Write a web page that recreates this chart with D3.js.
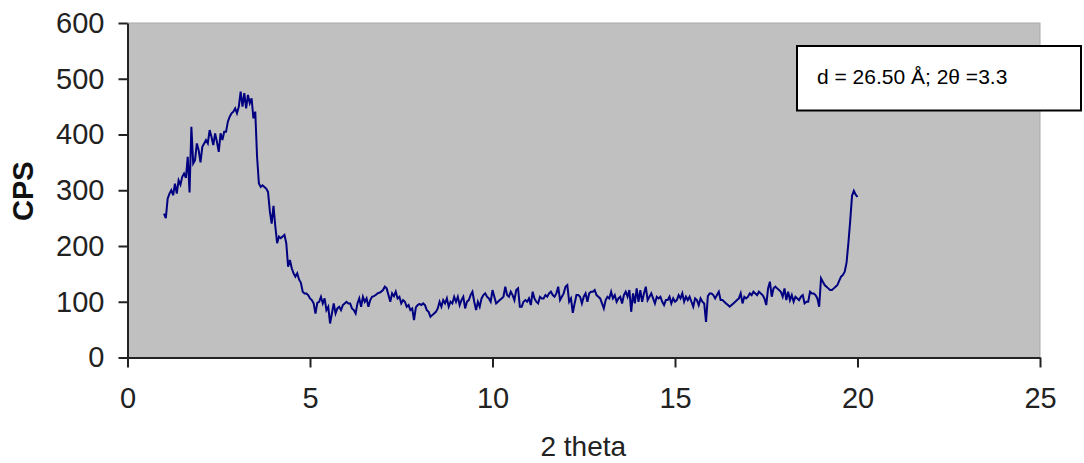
<!DOCTYPE html>
<html>
<head>
<meta charset="utf-8">
<script src="https://cdn.jsdelivr.net/npm/d3@7/dist/d3.min.js"></script>
<style>
  html, body { margin: 0; padding: 0; background: #ffffff; }
  svg { display: block; }
  text { font-family: "Liberation Sans", Arial, sans-serif; }
</style>
</head>
<body>
<svg id="chart" width="1084" height="463"></svg>
<script>
// XRD scan: 2 theta from 1.00 to 20.00 in steps of 0.05
const startAngle = 1.0;
const stepAngle = 0.05;

// counts per second, one row per degree of 2 theta
const cps = [
  // 1.00 - 1.95
  258, 250, 285, 294, 300, 291, 312, 294, 318, 310, 324, 330, 322, 360, 296, 414, 348, 354, 384, 372,
  // 2.00 - 2.95
  350, 378, 384, 390, 384, 408, 396, 381, 402, 387, 369, 402, 390, 405, 405, 423, 432, 438, 441, 447,
  // 3.00 - 3.95
  438, 450, 477, 450, 474, 447, 471, 456, 465, 429, 441, 360, 312, 306, 309, 306, 303, 297, 262, 240,
  // 4.00 - 4.95
  272, 235, 205, 217, 214, 217, 220, 205, 163, 175, 160, 151, 145, 151, 140, 134, 118, 115, 115, 112,
  // 5.00 - 5.95
  106, 103, 97, 79, 98, 100, 109, 97, 106, 85, 91, 61, 79, 97, 79, 88, 91, 85, 94, 97,
  // 6.00 - 6.95
  100, 97, 97, 88, 85, 79, 97, 106, 91, 109, 100, 106, 91, 103, 109, 110, 112, 115, 116, 118,
  // 7.00 - 7.95
  121, 127, 124, 112, 100, 115, 110, 118, 106, 109, 97, 103, 100, 91, 94, 85, 88, 67, 90, 94,
  // 8.00 - 8.95
  96, 94, 97, 94, 85, 82, 73, 76, 79, 82, 88, 100, 91, 103, 97, 106, 91, 100, 97, 109,
  // 9.00 - 9.95
  100, 109, 94, 103, 109, 88, 100, 103, 112, 118, 100, 85, 100, 91, 106, 112, 115, 109, 106, 100,
  // 10.00 - 10.95
  121, 109, 97, 100, 103, 106, 109, 127, 112, 109, 118, 112, 103, 121, 124, 91, 91, 100, 103, 100,
  // 11.00 - 11.95
  106, 94, 118, 106, 100, 97, 109, 106, 106, 112, 109, 115, 118, 112, 109, 115, 127, 103, 109, 115,
  // 12.00 - 12.95
  127, 130, 100, 106, 80, 97, 112, 112, 109, 97, 109, 115, 100, 115, 118, 118, 121, 112, 109, 106,
  // 13.00 - 13.95
  97, 88, 103, 109, 106, 118, 106, 112, 100, 106, 109, 97, 112, 118, 109, 121, 82, 115, 97, 124,
  // 14.00 - 14.95
  100, 121, 100, 115, 127, 103, 109, 115, 106, 97, 109, 106, 109, 100, 94, 103, 103, 109, 97, 106,
  // 15.00 - 15.95
  100, 103, 112, 106, 115, 100, 109, 103, 109, 100, 91, 106, 103, 94, 106, 100, 97, 64, 110, 115,
  // 16.00 - 16.95
  115, 112, 106, 112, 118, 103, 103, 100, 97, 94, 91, 94, 97, 100, 103, 106, 115, 97, 109, 106,
  // 17.00 - 17.95
  109, 115, 112, 118, 115, 112, 118, 115, 112, 106, 94, 124, 136, 109, 124, 127, 124, 121, 118, 109,
  // 18.00 - 18.95
  124, 103, 118, 103, 112, 100, 109, 106, 103, 109, 112, 97, 100, 100, 118, 115, 115, 112, 106, 91,
  // 19.00 - 20.00
  142, 136, 130, 127, 124, 121, 121, 124, 127, 130, 138, 145, 148, 154, 170, 205, 245, 290, 299, 292, 288
];

const xTicks = [0, 5, 10, 15, 20, 25];
const yTicks = [0, 100, 200, 300, 400, 500, 600];
const xTitle = "2 theta";
const yTitle = "CPS";
const noteText = "d = 26.50 Å; 2θ =3.3";

const data = cps.map((v, i) => ({ angle: +(startAngle + i * stepAngle).toFixed(2), cps: v }));

const svg = d3.select("#chart");
const plotLeft = 127.5, plotRight = 1040, plotTop = 23, plotBottom = 357.5;

const x = d3.scaleLinear().domain([0, 25]).range([plotLeft, plotRight]);
const y = d3.scaleLinear().domain([0, 600]).range([plotBottom, plotTop]);

// plot area
svg.append("rect")
  .attr("x", plotLeft).attr("y", plotTop)
  .attr("width", plotRight - plotLeft).attr("height", plotBottom - plotTop)
  .attr("fill", "#c0c0c0")
  .attr("stroke", "#a8a8a8").attr("stroke-width", 1);

// axes
const axisFont = 29;
const yAxis = svg.append("g")
  .attr("transform", `translate(${plotLeft},0)`)
  .call(d3.axisLeft(y).tickValues(yTicks).tickSize(9).tickPadding(14).tickSizeOuter(0));
const xAxis = svg.append("g")
  .attr("transform", `translate(0,${plotBottom})`)
  .call(d3.axisBottom(x).tickValues(xTicks).tickSize(10).tickPadding(20).tickSizeOuter(0));

[yAxis, xAxis].forEach(g => {
  g.select(".domain").attr("stroke", "#222").attr("stroke-width", 2);
  g.selectAll(".tick line").attr("stroke", "#222").attr("stroke-width", 2);
  g.selectAll(".tick text")
    .attr("fill", "#222")
    .style("font-size", axisFont + "px")
    .style("font-family", "'Liberation Sans', Arial, sans-serif");
});

// data line
const line = d3.line()
  .x(d => x(d.angle))
  .y(d => y(d.cps));

svg.append("path")
  .datum(data)
  .attr("d", line)
  .attr("fill", "none")
  .attr("stroke", "#000080")
  .attr("stroke-width", 2)
  .attr("stroke-linejoin", "miter");

// axis titles
svg.append("text")
  .attr("transform", `translate(33,${(plotTop + plotBottom) / 2 + 1}) rotate(-90)`)
  .attr("text-anchor", "middle")
  .attr("fill", "#111")
  .style("font-size", "29px")
  .style("font-weight", "bold")
  .text(yTitle);

svg.append("text")
  .attr("x", (plotLeft + plotRight) / 2 - 0.5)
  .attr("y", 456)
  .attr("text-anchor", "middle")
  .attr("fill", "#222")
  .style("font-size", "28px")
  .text(xTitle);

// annotation box
svg.append("rect")
  .attr("x", 797).attr("y", 46)
  .attr("width", 284).attr("height", 64.5)
  .attr("fill", "#ffffff")
  .attr("stroke", "#000").attr("stroke-width", 2);

svg.append("text")
  .attr("x", 817).attr("y", 84)
  .attr("fill", "#000")
  .style("font-size", "21px")
  .text(noteText);
</script>
</body>
</html>
